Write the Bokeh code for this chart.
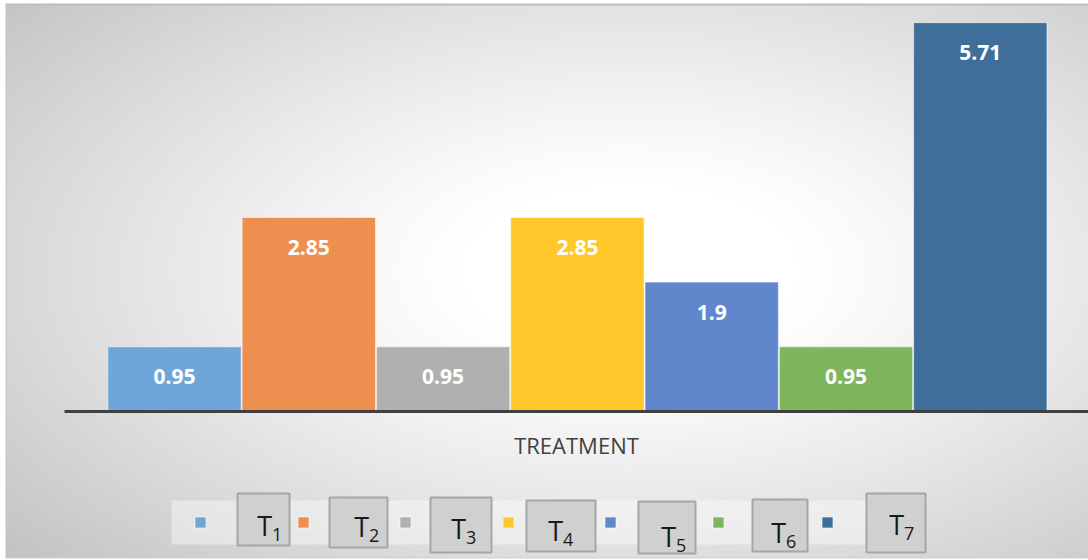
import numpy as np
from bokeh.plotting import figure
from bokeh.models import Range1d, LinearAxis, FixedTicker
from bokeh.core.properties import value
from bokeh.embed import file_html
from bokeh.resources import INLINE

# ---- data -------------------------------------------------------------
categories = ["T1", "T2", "T3", "T4", "T5", "T6", "T7"]
values = [0.95, 2.85, 0.95, 2.85, 1.9, 0.95, 5.71]
colors = ["#6FA6DA", "#EE8F50", "#B0B0B0", "#FFC72A", "#6086CC", "#7FB55C", "#3F6E9B"]
axis_title = "TREATMENT"

# ---- layout (pixels) --------------------------------------------------
W, H = 1088, 560
BAR_PX = 134.3          # pixels per category slot
FIRST_CENTER_PX = 174   # centre of the first bar
UNIT_PX = 68.1          # pixels per value unit
BASE_PY = 411           # baseline (value 0), from top

# legend: swatch centres, label boxes (left, right, top, bottom), label glyph anchors
LEG_Y = 522
swatch_px = [200, 303, 405, 508, 610, 718, 827]
box_l = [237, 329, 430, 526, 638, 752, 866]
box_r = [289, 387, 491, 595, 695, 807, 925]
box_t = [493, 497, 497, 500, 501, 499, 493]
box_b = [545, 547, 552, 551, 553, 551, 552]
t_right = [271, 368, 465, 562, 675, 785, 903]
t_top = [515, 516, 518, 520, 526, 522, 514]


def fx(px):
    return (px - FIRST_CENTER_PX) / BAR_PX


def fy(py):
    return (BASE_PY - py) / UNIT_PX


p = figure(
    width=W, height=H,
    x_range=Range1d(fx(0), fx(W)),
    y_range=Range1d(fy(H), fy(0)),
    x_axis_type=None, y_axis_type=None,
    toolbar_location=None, output_backend="svg",
    min_border=0,
)
p.outline_line_color = None
p.grid.visible = False
p.background_fill_color = "white"
p.border_fill_color = "white"

# ---- radial background with chart border and legend band --------------
xs = np.arange(W) + 0.5
ys = np.arange(H) + 0.5
X, Y = np.meshgrid(xs, ys)
cx, cy = 630.0, 270.0
d = np.sqrt(((X - cx) / 600.0) ** 2 + ((Y - cy) / 310.0) ** 2) / np.sqrt(2)
t = np.clip((d - 0.2) / 0.8, 0, 1) ** 1.15
v = 255.0 - 62.0 * t
inside = (X >= 5) & (Y >= 3) & (Y <= 557)
gray = np.where(inside, v, 255.0)
band = (X >= 171) & (X <= 880) & (Y >= 500) & (Y <= 544)
gray = np.where(band, gray + (255.0 - gray) * 0.4, gray)
gray = np.where((Y >= 3) & (Y < 5) & (X >= 5), 190.0, gray)
gray = np.where((X >= 5) & (X < 6.5) & (Y >= 3) & (Y <= 558), 195.0, gray)
gray = np.where((Y > 556.5) & (Y < 558.5) & (X >= 5), 208.0, gray)
g = gray.astype(np.uint8)
rgba = np.empty((H, W, 4), dtype=np.uint8)
rgba[..., 0] = g
rgba[..., 1] = g
rgba[..., 2] = g
rgba[..., 3] = 255
img = rgba.view(np.uint32).reshape(H, W)[::-1]
p.image_rgba(image=[img], x=fx(0), y=fy(H), dw=W / BAR_PX, dh=H / UNIT_PX, level="image")

# ---- bars -------------------------------------------------------------
idx = list(range(len(categories)))
p.vbar(x=idx, top=values, bottom=0, width=0.993,
       fill_color=colors, line_color="white", line_alpha=0.55, line_width=1)

labels = [f"{val:g}" for val in values]
p.text(x=idx, y=values, text=labels, y_offset=30,
       text_align="center", text_baseline="middle",
       text_font=value("Open Sans"), text_font_style="bold",
       text_font_size="21px", text_color="white")

# ---- category axis ----------------------------------------------------
xaxis = LinearAxis(
    fixed_location=0,
    ticker=FixedTicker(ticks=[]),
    bounds=(fx(64), fx(1088)),
    axis_line_color="#404040", axis_line_width=3,
    major_tick_line_color=None, minor_tick_line_color=None,
    major_label_text_font_size="0px",
    axis_label=axis_title,
    axis_label_text_font="Open Sans",
    axis_label_text_font_size="22px",
    axis_label_text_font_style="normal",
    axis_label_text_color="#404040",
    axis_label_standoff=18,
)
p.add_layout(xaxis, "below")

# ---- legend -----------------------------------------------------------
p.scatter(x=[fx(m) for m in swatch_px], y=[fy(LEG_Y)] * len(idx), marker="square",
          size=11, fill_color=colors, line_color="white", line_alpha=0.6, line_width=1)

p.quad(left=[fx(a) for a in box_l], right=[fx(b) for b in box_r],
       top=[fy(a) for a in box_t], bottom=[fy(b) for b in box_b],
       fill_color="#D0D0D0", line_color="#A6A6A6", line_width=2)

p.text(x=[fx(r + 0.5) for r in t_right], y=[fy(tt + 9.5) for tt in t_top],
       text=[c[0] for c in categories],
       text_align="right", text_baseline="middle",
       text_font=value("Open Sans"), text_font_size="27px", text_color="#1A1A1A")
p.text(x=[fx(r + 0.5) for r in t_right], y=[fy(tt + 18.5) for tt in t_top],
       text=[c[1:] for c in categories],
       text_align="left", text_baseline="middle",
       text_font=value("Open Sans"), text_font_size="18px", text_color="#1A1A1A")

open("out.html", "w").write(file_html(p, INLINE))
